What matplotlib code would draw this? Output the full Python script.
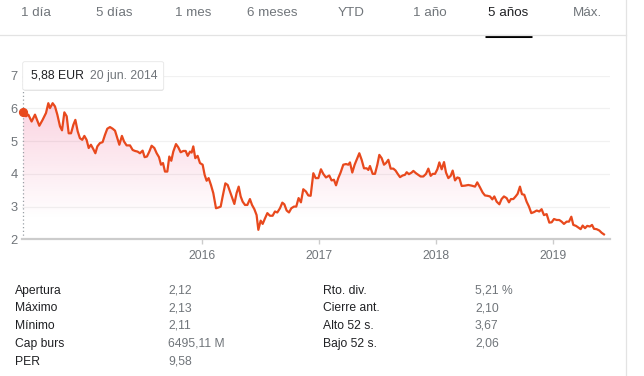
import numpy as np
import matplotlib
matplotlib.use("Agg")
import matplotlib.pyplot as plt
from matplotlib.patches import PathPatch, FancyBboxPatch

plt.rcParams['font.family'] = ['Liberation Sans', 'DejaVu Sans']

# price series (decimal year, EUR)
years = [
    2014.470, 2014.493, 2014.513, 2014.541, 2014.570, 2014.607, 2014.635, 2014.664, 2014.684, 2014.698,
    2014.721, 2014.741, 2014.761, 2014.784, 2014.801, 2014.821, 2014.841, 2014.858, 2014.878, 2014.898,
    2014.915, 2014.935, 2014.954, 2014.974, 2014.992, 2015.011, 2015.029, 2015.048, 2015.068, 2015.086,
    2015.103, 2015.125, 2015.148, 2015.168, 2015.188, 2015.211, 2015.234, 2015.254, 2015.274, 2015.291,
    2015.313, 2015.331, 2015.353, 2015.382, 2015.405, 2015.425, 2015.447, 2015.467, 2015.490, 2015.507,
    2015.527, 2015.547, 2015.567, 2015.590, 2015.610, 2015.630, 2015.647, 2015.664, 2015.681, 2015.701,
    2015.718, 2015.735, 2015.752, 2015.775, 2015.795, 2015.815, 2015.838, 2015.858, 2015.875, 2015.895,
    2015.909, 2015.923, 2015.940, 2015.960, 2015.980, 2016.003, 2016.020, 2016.037, 2016.054, 2016.074,
    2016.094, 2016.117, 2016.137, 2016.157, 2016.174, 2016.197, 2016.217, 2016.237, 2016.256, 2016.274,
    2016.293, 2016.311, 2016.328, 2016.345, 2016.365, 2016.385, 2016.407, 2016.425, 2016.445, 2016.464,
    2016.479, 2016.499, 2016.516, 2016.536, 2016.556, 2016.578, 2016.601, 2016.621, 2016.641, 2016.664,
    2016.684, 2016.701, 2016.721, 2016.741, 2016.761, 2016.784, 2016.803, 2016.823, 2016.843,
    2016.863, 2016.886, 2016.906, 2016.926, 2016.949, 2016.969, 2016.992, 2017.014, 2017.034, 2017.057,
    2017.085, 2017.105, 2017.125, 2017.143, 2017.162, 2017.182, 2017.205, 2017.228, 2017.248, 2017.262,
    2017.282, 2017.302, 2017.325, 2017.342, 2017.362, 2017.382, 2017.405, 2017.419, 2017.433, 2017.456,
    2017.476, 2017.496, 2017.513, 2017.533, 2017.553, 2017.570, 2017.590, 2017.610, 2017.633, 2017.652,
    2017.670, 2017.690, 2017.712, 2017.732, 2017.747, 2017.766, 2017.789, 2017.804, 2017.826, 2017.846,
    2017.866, 2017.889, 2017.912, 2017.932, 2017.952, 2017.969, 2017.989, 2018.009, 2018.026, 2018.046,
    2018.066, 2018.083, 2018.103, 2018.123, 2018.140, 2018.160, 2018.180, 2018.197, 2018.217, 2018.245,
    2018.274, 2018.302, 2018.331, 2018.350, 2018.373, 2018.396, 2018.416, 2018.436, 2018.459, 2018.479,
    2018.496, 2018.516, 2018.539, 2018.558, 2018.578, 2018.601, 2018.621, 2018.638, 2018.658, 2018.678,
    2018.695, 2018.715, 2018.732, 2018.752, 2018.772, 2018.792, 2018.812, 2018.834, 2018.858, 2018.880,
    2018.900, 2018.920, 2018.943, 2018.966, 2018.986, 2019.006, 2019.029, 2019.051, 2019.071, 2019.091,
    2019.114, 2019.134, 2019.154, 2019.171, 2019.194, 2019.214, 2019.234, 2019.251, 2019.271, 2019.290,
    2019.313, 2019.331, 2019.348, 2019.370, 2019.393, 2019.413, 2019.433,
]
prices = [
    5.88, 5.76, 5.81, 5.60, 5.81, 5.47, 5.65, 5.86, 6.16, 6.01,
    6.16, 6.06, 5.81, 5.45, 5.33, 5.88, 5.76, 5.24, 5.24, 5.50,
    5.65, 5.30, 5.09, 5.04, 5.16, 5.04, 4.79, 4.89, 4.76, 4.63,
    4.84, 4.94, 4.97, 5.19, 5.38, 5.43, 5.38, 5.32, 5.09, 4.89,
    5.16, 4.99, 4.87, 4.87, 4.73, 4.70, 4.68, 4.63, 4.71, 4.51,
    4.53, 4.68, 4.86, 4.79, 4.63, 4.51, 4.28, 4.33, 4.07, 4.07,
    4.53, 4.40, 4.68, 4.91, 4.81, 4.66, 4.70, 4.70, 4.55, 4.68,
    4.65, 4.84, 4.48, 4.55, 4.33, 4.28, 3.97, 3.79, 3.87, 3.66,
    3.41, 2.95, 2.97, 3.00, 3.31, 3.71, 3.66, 3.46, 3.26, 3.08,
    3.41, 3.61, 3.31, 3.15, 3.05, 3.05, 3.23, 3.05, 2.92, 2.74,
    2.29, 2.57, 2.47, 2.64, 2.80, 2.72, 2.72, 2.85, 2.82, 2.95,
    3.12, 3.07, 2.88, 2.82, 2.95, 3.00, 3.00, 3.26, 3.13,
    3.53, 3.46, 3.34, 3.33, 4.02, 3.87, 3.87, 4.14, 4.00, 3.89,
    3.95, 3.80, 3.82, 3.65, 3.87, 4.04, 4.28, 4.30, 4.28, 4.35,
    4.04, 4.28, 4.48, 4.63, 4.43, 4.17, 4.17, 4.12, 4.24, 4.00,
    4.00, 4.28, 4.58, 4.48, 4.28, 4.33, 4.43, 4.16, 4.16, 4.10,
    4.00, 3.90, 3.95, 3.97, 4.05, 3.99, 4.04, 4.09, 4.02, 3.97,
    3.92, 3.92, 4.00, 4.16, 3.94, 4.00, 4.00, 4.14, 4.35, 4.14,
    4.36, 4.04, 3.87, 3.94, 4.10, 3.80, 3.89, 3.87, 3.63, 3.64,
    3.66, 3.64, 3.61, 3.74, 3.59, 3.43, 3.34, 3.33, 3.31, 3.22,
    3.31, 3.15, 3.07, 3.23, 3.31, 3.26, 3.13, 3.23, 3.23, 3.31,
    3.39, 3.61, 3.38, 3.36, 3.15, 3.00, 2.80, 2.83, 2.88, 2.85,
    2.92, 2.74, 2.77, 2.51, 2.52, 2.62, 2.59, 2.59, 2.54, 2.47,
    2.54, 2.54, 2.69, 2.44, 2.41, 2.36, 2.31, 2.42, 2.34, 2.41,
    2.39, 2.44, 2.32, 2.31, 2.27, 2.20, 2.15,
]
year_ticks = [2016, 2017, 2018, 2019]
price_ticks = [2, 3, 4, 5, 6, 7]

tabs = ["1 día", "5 días", "1 mes", "6 meses", "YTD", "1 año", "5 años", "Máx."]
selected_tab = "5 años"
tip_price = "5,88 EUR"
tip_date = "20 jun. 2014"

stat_labels_1 = ["Apertura", "Máximo", "Mínimo", "Cap burs", "PER"]
stat_values_1 = ["2,12", "2,13", "2,11", "6495,11 M", "9,58"]
stat_labels_2 = ["Rto. div.", "Cierre ant.", "Alto 52 s.", "Bajo 52 s."]
stat_values_2 = ["5,21 %", "2,10", "3,67", "2,06"]

LINE = '#e8491d'
GRAY = '#70757a'
W, H = 644, 376

fig = plt.figure(figsize=(W / 100, H / 100), dpi=100)
fig.patch.set_facecolor('white')

# chart axes placed in pixel terms
left, right, top, bottom = 22, 610, 75.7, 239.3
ax = fig.add_axes([left / W, 1 - bottom / H, (right - left) / W, (bottom - top) / H])
x0 = 2016 + (left - 202.3) / 117
x1 = 2016 + (right - 202.3) / 117
ax.set_xlim(x0, x1)
ax.set_ylim(2, 7)

for s in ['top', 'right', 'left']:
    ax.spines[s].set_visible(False)
ax.spines['bottom'].set_color('#cccccc')
ax.spines['bottom'].set_linewidth(1.6)

ax.set_yticks(price_ticks)
ax.set_yticklabels([str(v) for v in price_ticks])
ax.set_xticks(year_ticks)
ax.set_xticklabels([str(v) for v in year_ticks])
ax.tick_params(axis='y', length=0, pad=3, labelcolor=GRAY, labelsize=9.3)
ax.tick_params(axis='x', length=3.5, width=1, color='#cccccc', pad=4, labelcolor=GRAY, labelsize=8.8)
for v in price_ticks[1:]:
    ax.axhline(v, color='#f1f1f1', lw=0.9, zorder=0)

# pink gradient under the line
grad = np.zeros((200, 1, 4))
yy = np.linspace(2, 7, 200)
grad[:, 0, 0] = 233 / 255
grad[:, 0, 1] = 30 / 255
grad[:, 0, 2] = 99 / 255
grad[:, 0, 3] = np.clip((yy - 2.6) / (6.2 - 2.6), 0, 1) * 0.2
im = ax.imshow(grad, extent=[x0, x1, 2, 7], origin='lower', aspect='auto', zorder=1,
               interpolation='bilinear')
poly = ax.fill_between(years, prices, 2, facecolor='none', edgecolor='none')
clip = PathPatch(poly.get_paths()[0], facecolor='none', edgecolor='none', transform=ax.transData)
ax.add_patch(clip)
im.set_clip_path(clip)

ax.vlines(years[0], 2, 7, colors='#9aa0a6', linestyles=(0, (1, 2)), lw=0.9, zorder=2)
ax.plot(years, prices, color=LINE, lw=1.6, zorder=3, solid_joinstyle='round', clip_on=False)
ax.plot(years[0], prices[0], 'o', color=LINE, ms=5.6, zorder=4, clip_on=False)

# overlay in pixel coordinates for tabs, tooltip and stats
ov = fig.add_axes([0, 0, 1, 1], zorder=5)
ov.set_xlim(0, W)
ov.set_ylim(H, 0)
ov.axis('off')
ov.patch.set_alpha(0)

for i, t in enumerate(tabs):
    cx = 35.5 + i * 78.8
    ov.text(cx, 13, t, ha='center', va='center', fontsize=9.6,
            color='#202124' if t == selected_tab else GRAY)
    if t == selected_tab:
        ov.plot([cx - 23.5, cx + 23.5], [35.5, 35.5], color='black', lw=2.2, solid_capstyle='butt')
ov.plot([0, 626], [35, 35], color='#e3e3e3', lw=0.9)
ov.plot([626, 626], [0, H], color='#e3e3e3', lw=0.9)

ov.add_patch(FancyBboxPatch((23.5, 63), 140, 28, boxstyle='round,pad=0,rounding_size=2',
                            facecolor='#d9d9d9', edgecolor='none', alpha=0.7))
ov.add_patch(FancyBboxPatch((22.7, 61.7), 141, 28.3, boxstyle='round,pad=0,rounding_size=2',
                            facecolor='white', edgecolor='#e6e6e6', lw=0.6))
ov.text(31.5, 75.8, tip_price, ha='left', va='center', fontsize=8.8, color='#202124')
ov.text(90.5, 75.8, tip_date, ha='left', va='center', fontsize=8.8, color=GRAY)

row_y = [290.7, 308.3, 326, 343.5, 361.7]
for i, (lab, val) in enumerate(zip(stat_labels_1, stat_values_1)):
    ov.text(15, row_y[i], lab, ha='left', va='center', fontsize=8.7, color='#202124')
    ov.text(168, row_y[i], val, ha='left', va='center', fontsize=8.7, color=GRAY)
for i, (lab, val) in enumerate(zip(stat_labels_2, stat_values_2)):
    ov.text(323, row_y[i], lab, ha='left', va='center', fontsize=8.7, color='#202124')
    ov.text(475, row_y[i], val, ha='left', va='center', fontsize=8.7, color=GRAY)

fig.savefig('out.png', dpi=100, facecolor='white')
